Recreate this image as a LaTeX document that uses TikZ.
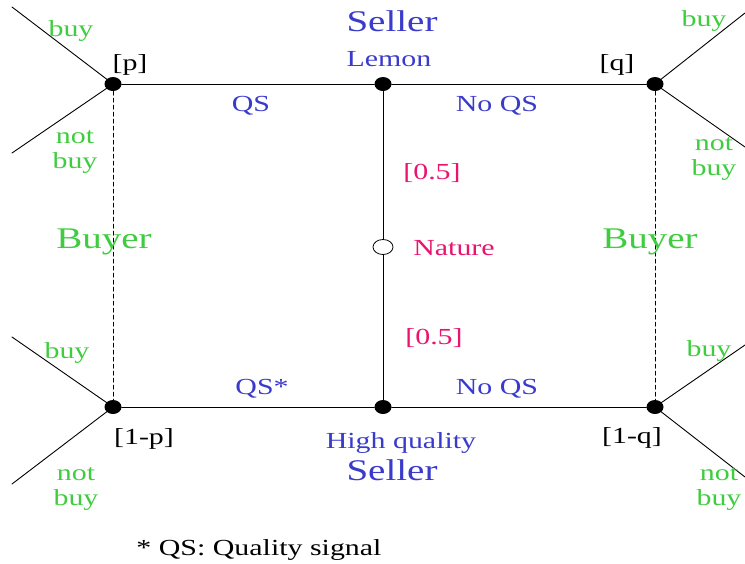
\documentclass[tikz,border=0pt]{standalone}
\usepackage{fontspec}
\setmainfont[FakeStretch=1.3]{Liberation Serif}
\usepackage{tikz}
\usetikzlibrary{shapes.geometric}
\definecolor{sellerblue}{RGB}{58,58,204}
\definecolor{buyergreen}{RGB}{64,204,64}
\definecolor{naturepink}{RGB}{232,20,110}

\begin{document}
\begin{tikzpicture}[line cap=round,line join=round,x=1pt,y=-1pt,
        dec/.style={ellipse,fill=black,inner sep=0pt,minimum width=17pt,minimum height=14pt},
        chance/.style={ellipse,draw,fill=white,line width=0.8pt,inner sep=0pt,minimum width=20pt,minimum height=15pt},
        small/.style={font=\fontsize{23}{25}\selectfont,inner sep=0pt,align=center,yshift=-2pt},
        big/.style={font=\fontsize{30}{32}\selectfont,inner sep=0pt,yshift=-2pt}]
                \useasboundingbox (0,0) rectangle (745,563);
                % decision and chance nodes
                \node [dec] (bp) at (113,84) {};
                \node [dec] (bq) at (655,84) {};
                \node [dec] (bnp) at (113,407) {};
                \node [dec] (bnq) at (655,407) {};
                \node [dec] (lemon) at (383,84) {};
                \node [dec] (hq) at (383,407) {};
                \node [chance] (nature) at (383,247) {};
                % loose ends of the buyer's moves
                \coordinate (bpbuy) at (12,7);
                \coordinate (bpnot) at (12,153);
                \coordinate (bqbuy) at (745,13);
                \coordinate (bqnot) at (745,147);
                \coordinate (bnpbuy) at (12,337);
                \coordinate (bnpnot) at (12,484);
                \coordinate (bnqbuy) at (745,345);
                \coordinate (bnqnot) at (745,477);
                \draw [line width=0.9pt] (bp)-- (lemon);
                \draw [line width=0.9pt] (lemon)-- (bq);
                \draw [line width=0.9pt] (bnp)-- (hq);
                \draw [line width=0.9pt] (hq)-- (bnq);
                \draw [line width=0.9pt] (lemon)-- (nature);
                \draw [line width=0.9pt] (nature)-- (hq);
                \draw [line width=0.9pt] (bp.center)-- (bpbuy);
                \draw [line width=0.9pt] (bp.center)-- (bpnot);
                \draw [line width=0.9pt] (bq.center)-- (bqbuy);
                \draw [line width=0.9pt] (bq.center)-- (bqnot);
                \draw [line width=0.9pt] (bnp.center)-- (bnpbuy);
                \draw [line width=0.9pt] (bnp.center)-- (bnpnot);
                \draw [line width=0.9pt] (bnq.center)-- (bnqbuy);
                \draw [line width=0.9pt] (bnq.center)-- (bnqnot);
                \draw [line width=0.9pt,dash pattern=on 4pt off 3pt] (bp)-- (bnp);
                \draw [line width=0.9pt,dash pattern=on 4pt off 3pt] (bq)-- (bnq);
                % labels
                \node [big,text=sellerblue] (sellertop) at (392,19) {Seller};
                \node [small,text=sellerblue] (lemonlbl) at (389,57) {Lemon};
                \node [small,text=sellerblue] (qs) at (251,104) {QS};
                \node [small,text=sellerblue] (noqs) at (497,104) {No QS};
                \node [small,text=sellerblue] (qsstar) at (262,387) {QS*};
                \node [small,text=sellerblue] (noqsb) at (497,387) {No QS};
                \node [small,text=sellerblue] (hqlbl) at (401,441) {High quality};
                \node [big,text=sellerblue] (sellerbot) at (392,468) {Seller};
                \node [small,text=naturepink] (ptop) at (432,171) {[0.5]};
                \node [small,text=naturepink] (naturelbl) at (454,246) {Nature};
                \node [small,text=naturepink] (pbot) at (434,336) {[0.5]};
                \node [big,text=buyergreen] (buyerl) at (104,240) {Buyer};
                \node [big,text=buyergreen] (buyerr) at (650,240) {Buyer};
                \node [small] (blp) at (130,63) {[p]};
                \node [small] (blq) at (617,63) {[q]};
                \node [small] (blnp) at (144,437) {[1-p]};
                \node [small] (blnq) at (632,436) {[1-q]};
                \node [small,text=buyergreen] (b1) at (71,29) {buy};
                \node [small,text=buyergreen] (n1) at (75,150) {not\\buy};
                \node [small,text=buyergreen] (b2) at (704,19) {buy};
                \node [small,text=buyergreen] (n2) at (714,157) {not\\buy};
                \node [small,text=buyergreen] (b3) at (67,351) {buy};
                \node [small,text=buyergreen] (n3) at (76,487) {not\\buy};
                \node [small,text=buyergreen] (b4) at (709,349) {buy};
                \node [small,text=buyergreen] (n4) at (719,487) {not\\buy};
                \node [small] (note) at (259,548) {* QS: Quality signal};
            \end{tikzpicture}
\end{document}
